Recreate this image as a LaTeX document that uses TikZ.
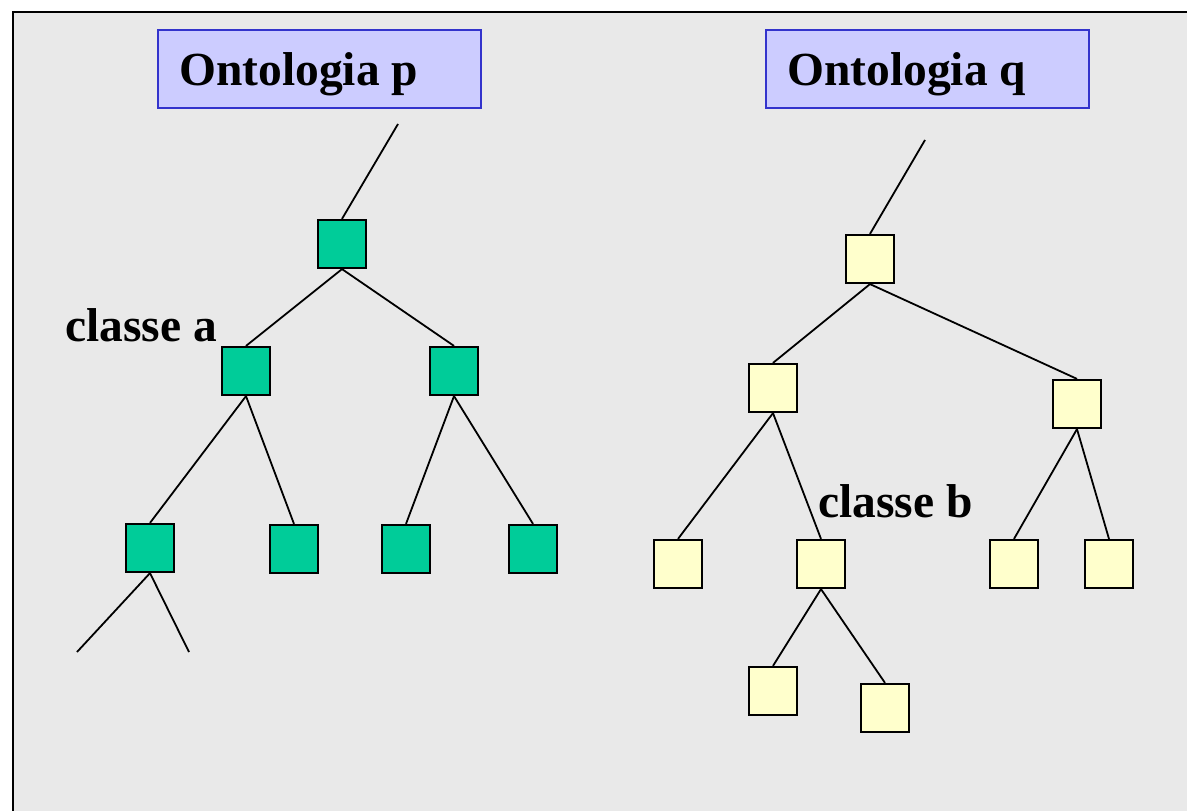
\documentclass[tikz,border=0pt]{standalone}
\usepackage{fontspec}
\setmainfont{Liberation Serif}
\begin{document}
\begin{tikzpicture}[x=1pt,y=-1pt,
  every node/.style={font=\bfseries\fontsize{47.5}{57}\selectfont},
  title/.style={draw=titleborder, fill=titlefill, line width=2pt, minimum width=323pt, minimum height=78pt, inner sep=0pt, anchor=north west},
  lbl/.style={anchor=base west, inner sep=0pt},
  pbox/.style={draw=black, fill=pgreen, line width=2.2pt, minimum size=48pt, inner sep=0pt},
  qbox/.style={draw=black, fill=qyellow, line width=2.2pt, minimum size=48pt, inner sep=0pt},
  edge/.style={draw=black, line width=1.8pt}]
\definecolor{bg}{HTML}{E9E9E9}
\definecolor{titlefill}{HTML}{CCCCFF}
\definecolor{titleborder}{HTML}{3333CC}
\definecolor{pgreen}{HTML}{00CC99}
\definecolor{qyellow}{HTML}{FFFFCC}
\useasboundingbox (0,0) rectangle (1187,811);
% panel background with its left and top edge
\fill[bg] (13,12) rectangle (1187,811);
\draw[line width=2.2pt] (13,811) -- (13,12) -- (1187,12);

% titles
\node[title] (tp) at (157,29) {};
\node[lbl] (tpt) at (179,85) {Ontologia p};
\node[title] (tq) at (765,29) {};
\node[lbl] (tqt) at (787,85) {Ontologia q};

% ontology p
\coordinate (ptop) at (398,124);
\node[pbox] (p0) at (342,244) {};
\node[pbox] (pa) at (246,371) {};
\node[pbox] (pb) at (454,371) {};
\node[pbox] (pc) at (150,548) {};
\node[pbox] (pd) at (294,549) {};
\node[pbox] (pe) at (406,549) {};
\node[pbox] (pf) at (533,549) {};
\coordinate (pl1) at (77,652);
\coordinate (pl2) at (189,652);
\draw[edge] (ptop) -- (p0.north);
\draw[edge] (p0.south) -- (pa.north);
\draw[edge] (p0.south) -- (pb.north);
\draw[edge] (pa.south) -- (pc.north);
\draw[edge] (pa.south) -- (pd.north);
\draw[edge] (pb.south) -- (pe.north);
\draw[edge] (pb.south) -- (pf.north);
\draw[edge] (pc.south) -- (pl1);
\draw[edge] (pc.south) -- (pl2);
\node[lbl] (la) at (65,341) {classe a};

% ontology q
\coordinate (qtop) at (925,140);
\node[qbox] (q0) at (870,259) {};
\node[qbox] (qa) at (773,388) {};
\node[qbox] (qb) at (1077,404) {};
\node[qbox] (qc) at (678,564) {};
\node[qbox] (qd) at (821,564) {};
\node[qbox] (qe) at (1014,564) {};
\node[qbox] (qf) at (1109,564) {};
\node[qbox] (qg) at (773,691) {};
\node[qbox] (qh) at (885,708) {};
\draw[edge] (qtop) -- (q0.north);
\draw[edge] (q0.south) -- (qa.north);
\draw[edge] (q0.south) -- (qb.north);
\draw[edge] (qa.south) -- (qc.north);
\draw[edge] (qa.south) -- (qd.north);
\draw[edge] (qb.south) -- (qe.north);
\draw[edge] (qb.south) -- (qf.north);
\draw[edge] (qd.south) -- (qg.north);
\draw[edge] (qd.south) -- (qh.north);
\node[lbl] (lb) at (818,517) {classe b};
\end{tikzpicture}
\end{document}
